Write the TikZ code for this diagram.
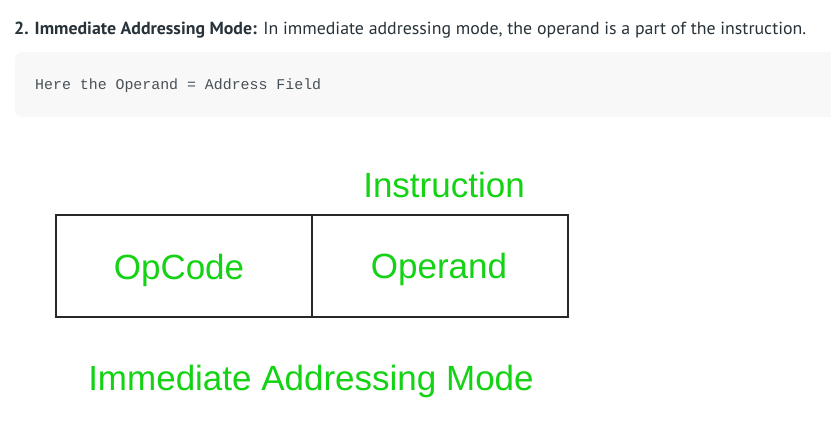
\documentclass[tikz,border=0pt]{standalone}
\usepackage{fontspec}
\setmainfont{Liberation Sans}
\newfontfamily\headfont[FakeStretch=0.8]{PT Sans}
\newfontfamily\codefont{Liberation Mono}
\definecolor{grn}{RGB}{20,210,20}
\definecolor{ink}{RGB}{39,50,57}
\definecolor{codebg}{RGB}{248,248,248}
\definecolor{boxline}{RGB}{40,40,40}
\tikzset{
  cell/.style={draw=boxline, line width=1.8pt, minimum width=256pt, minimum height=102pt, inner sep=0pt},
  lbl/.style={font=\fontsize{35}{40}\selectfont, text=grn, inner sep=0pt}
}
\begin{document}
\begin{tikzpicture}[x=1pt,y=-1pt]
\useasboundingbox (0,0) rectangle (831,432);
\fill[white] (0,0) rectangle (831,432);
% heading
\node[anchor=base west, inner sep=0pt, text=ink] (head) at (14,34)
  {\resizebox{792pt}{12.5pt}{\headfont\fontsize{17}{19}\selectfont\textbf{2. Immediate Addressing Mode:} In immediate addressing mode, the operand is a part of the instruction.}};
% code block
\fill[codebg, rounded corners=8pt] (15,52) rectangle (850,117);
\node[anchor=base west, inner sep=0pt, text=ink!85] (code) at (35,89)
  {\resizebox{286pt}{!}{\codefont\fontsize{14}{16}\selectfont Here the Operand = Address Field}};
% diagram
\node[cell] (opcode) at (184,266) {};
\node[cell] (operand) at (440,266) {};
\node[lbl] (optext) at ([xshift=-5pt,yshift=-4pt]opcode.center) {OpCode};
\node[lbl] (operandtext) at ([xshift=-1pt,yshift=-3pt]operand.center) {Operand};
\node[lbl] (instr) at (444,185) {Instruction};
\node[lbl] (mode) at (311,381) {Immediate Addressing Mode};
\end{tikzpicture}
\end{document}
